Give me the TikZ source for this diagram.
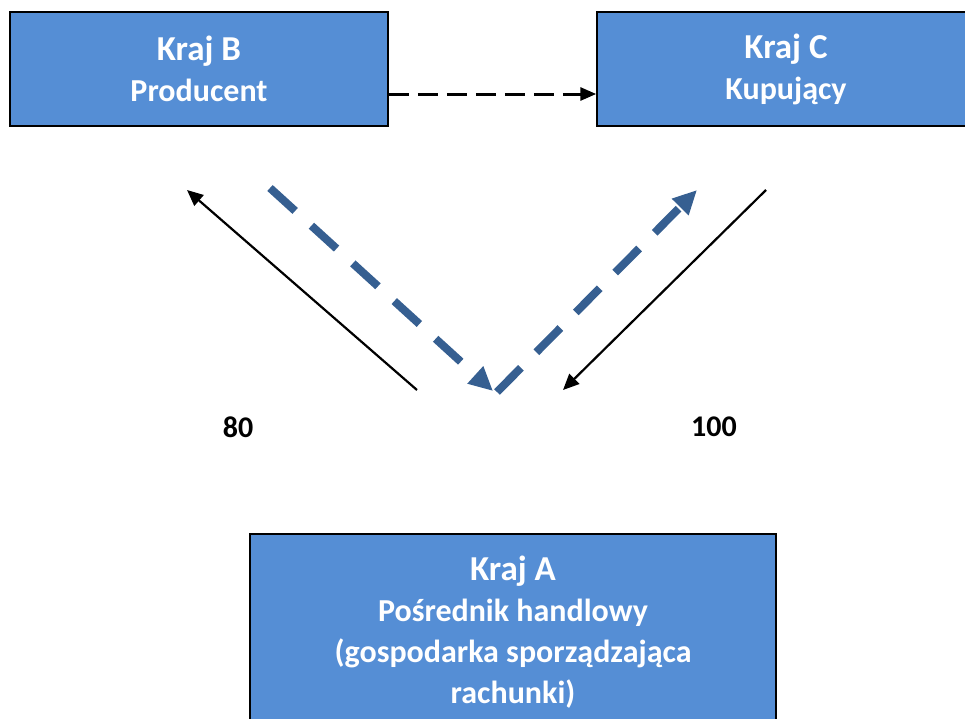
\documentclass[tikz,border=0pt]{standalone}
\usepackage{fontspec}
\setmainfont{Carlito}
\usetikzlibrary{arrows.meta}
\definecolor{boxblue}{RGB}{85,142,213}
\definecolor{flowblue}{RGB}{54,95,145}
\tikzset{
	country/.style={shape=rectangle,draw=black,line width=1.5pt,fill=boxblue,text=white,align=center,inner sep=0pt,font=\bfseries\fontsize{32}{41}\selectfont},
	money/.style={-{Triangle[length=16pt,width=14pt]},line width=2.2pt},
	goods/.style={-{Triangle[length=24pt,width=22pt]},flowblue,line width=8pt,dash pattern=on 34pt off 22pt},
	invoice/.style={-{Triangle[length=16pt,width=13pt]},line width=3pt,dash pattern=on 20pt off 9pt},
	amount/.style={font=\bfseries\fontsize{30}{36}\selectfont}
}

\begin{document}
\begin{tikzpicture}[x=1pt,y=-1pt]
	\useasboundingbox (0,0) rectangle (965,718);
	\node [country,minimum width=378pt,minimum height=114pt] (B) at (199,69) {{\fontsize{35}{41}\selectfont Kraj B}\\Producent};
	\node [country,minimum width=378pt,minimum height=114pt] (C) at (786,69) {{\fontsize{35}{41}\selectfont Kraj C}\\Kupujący};
	\node [country,minimum width=526pt,minimum height=196pt] (A) at (513,632) {{\fontsize{35}{41}\selectfont Kraj A}\\Pośrednik handlowy\\(gospodarka sporządzająca\\rachunki)};
	\node [amount] (p80) at (238,427) {80};
	\node [amount] (p100) at (714,427) {100};

	\coordinate (pay1s) at (417,390);
	\coordinate (pay1e) at (187,190);
	\coordinate (pay2s) at (766,190);
	\coordinate (pay2e) at (563,390);
	\coordinate (go1s) at (270,188);
	\coordinate (go1e) at (493,391);
	\coordinate (go2s) at (497,392);
	\coordinate (go2e) at (697,190);

	\path [invoice] ([yshift=-25pt]B.east) edge ([yshift=-25pt]C.west);
	\path [money] (pay1s) edge (pay1e);
	\path [money] (pay2s) edge (pay2e);
	\draw [goods] (go1s) -- (go1e);
	\draw [goods] (go2s) -- (go2e);
\end{tikzpicture}
\end{document}
